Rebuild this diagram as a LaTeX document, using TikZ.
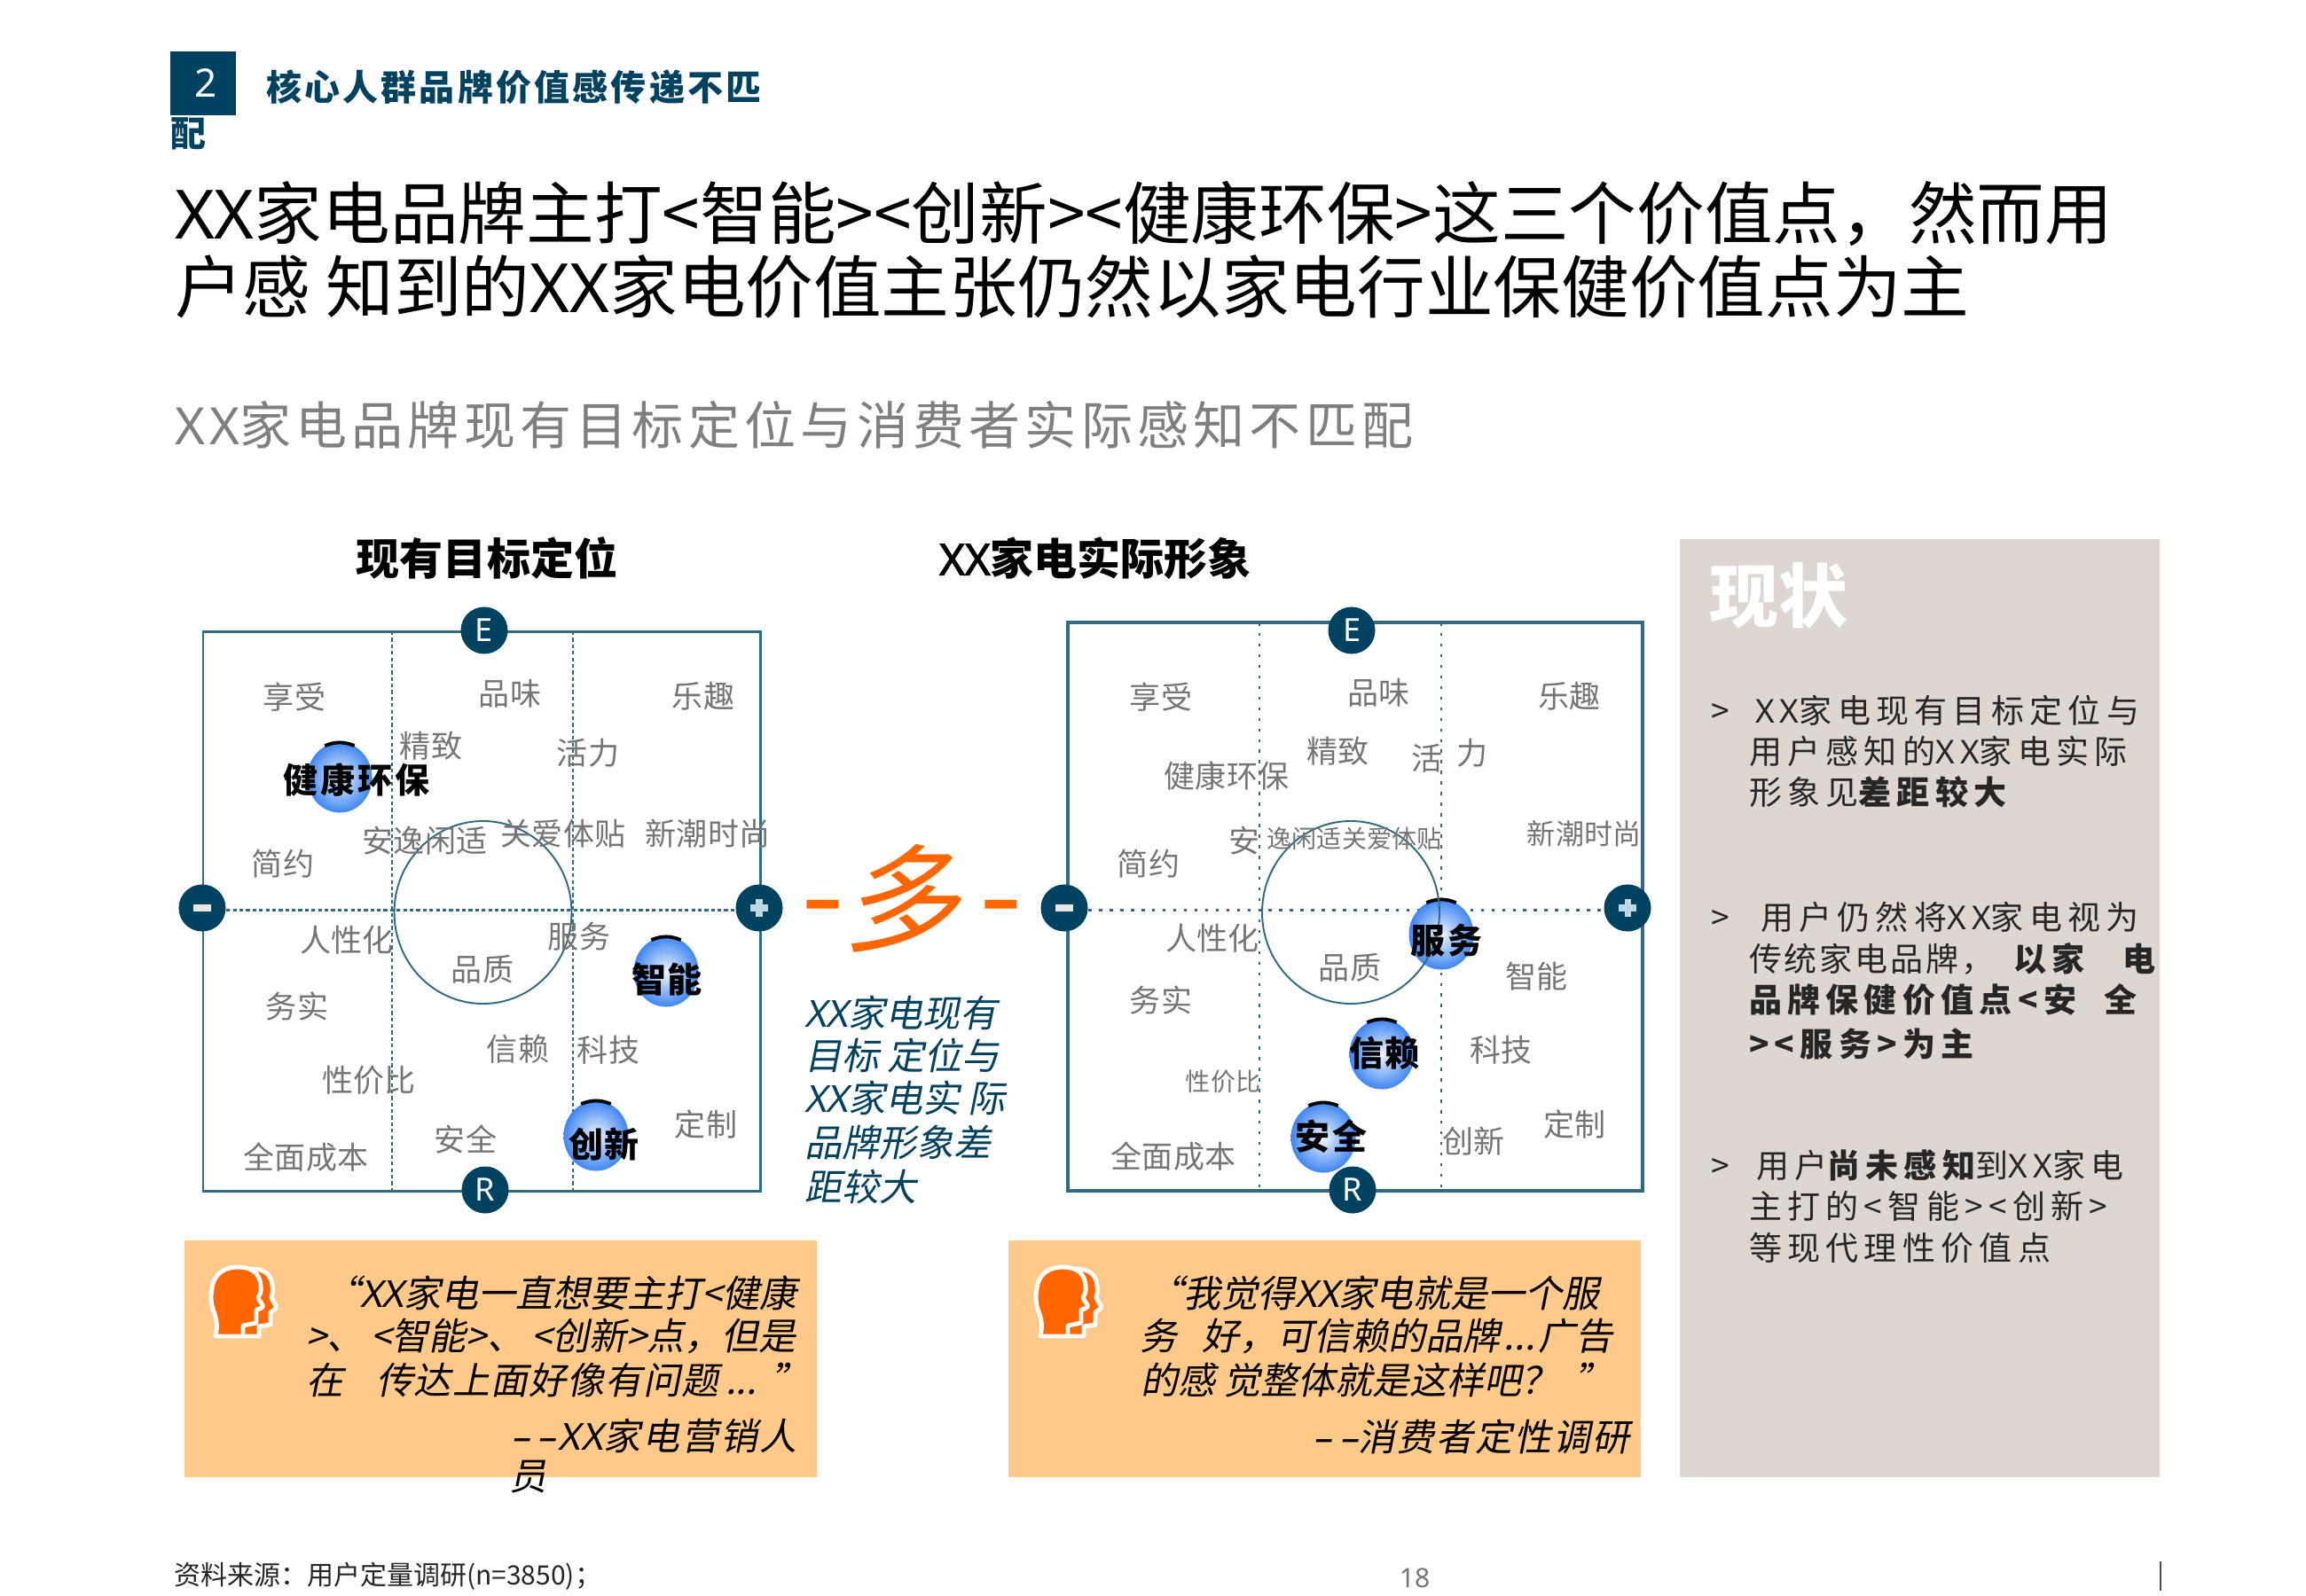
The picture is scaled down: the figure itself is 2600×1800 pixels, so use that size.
\documentclass[tikz,border=0pt]{standalone}
\usepackage{fontspec}
\usetikzlibrary{shapes.geometric}
\setmainfont{Noto Sans CJK SC}
\newfontfamily\cjkit[FakeSlant=0.2]{Noto Sans CJK SC}
\newfontfamily\cjkitw[FakeSlant=0.2,LetterSpace=5]{Noto Sans CJK SC}
\newfontfamily\cjksp[LetterSpace=17]{Noto Sans CJK SC}
\newfontfamily\cjksub[LetterSpace=9]{Noto Sans CJK SC}
\newfontfamily\cjkhd[LetterSpace=8]{Noto Sans CJK SC}
\newfontfamily\latf{Noto Sans}
\newfontfamily\latbd[FakeBold=2]{Noto Sans}
\newfontfamily\latit[FakeSlant=0.2]{Noto Sans}
\newfontfamily\latitw[FakeSlant=0.2,LetterSpace=5]{Noto Sans}
\newfontfamily\latsp[LetterSpace=17]{Noto Sans}
\newfontfamily\latsub[LetterSpace=9]{Noto Sans}
\newcommand\fs[1]{\fontsize{\the\dimexpr 0.28453pt*#1\relax}{\the\dimexpr 0.34pt*#1\relax}\selectfont}
\newcommand\XX{{\latf XX}}
\newcommand\XD{{\latbd XX}}
\newcommand\XI{{\latit XX}}
\newcommand\XW{{\latitw XX}}
\newcommand\XS{{\latsp XX}}
\newcommand\XB{{\latsub XX}}
\newcommand\gap[1]{\hspace{\dimexpr 0.28453pt*#1\relax}}
\definecolor{teal}{HTML}{00425F}
\definecolor{framec}{HTML}{2F6B84}
\definecolor{wordgray}{HTML}{757575}
\definecolor{subgray}{HTML}{7F7F7F}
\definecolor{oran}{HTML}{FF6600}
\definecolor{peach}{HTML}{FFC989}
\definecolor{sand}{HTML}{DED6D1}
\definecolor{ballblue}{HTML}{3F86F2}
\definecolor{minusc}{HTML}{EAE6E2}
\definecolor{plusc}{HTML}{BFD9E3}
\tikzset{
  x=0.01cm,y=-0.01cm,
  txt/.style={inner sep=0,outer sep=0,execute at begin node={\rule[-.12em]{0pt}{1em}}},
  titleline/.style={txt,anchor=west,font=\fontsize{21.8pt}{26pt}\selectfont,text=black},
  word/.style={txt,text=wordgray,font=\fs{35}},
  wordsm/.style={txt,text=wordgray,font=\fs{28}},
  hot/.style={txt,text=black,font=\fs{39}\bfseries},
  hotsp/.style={txt,text=black,font=\cjkhd\fs{39}\bfseries},
  ballnode/.style={ellipse,minimum width=.73cm,minimum height=.79cm,inner sep=0,shading=radial,inner color=white!92!ballblue,outer color=ballblue},
  ballcap/.style={black,line width=1.1pt},
  axisdisc/.style={circle,fill=teal,minimum size=.53cm,inner sep=0,text=white,font=\latf\fs{36}},
  framebox/.style={draw=framec},
  sep/.style={draw=framec,line width=.8pt},
  quoteline/.style={txt,font=\cjkit\fs{42},text=black},
  quotewide/.style={txt,font=\cjkitw\fs{42},text=black},
  midline/.style={txt,anchor=west,font=\cjkit\fs{42},text=teal},
  bodyline/.style={txt,anchor=west,font=\cjksp\fs{37},text=black!85},
  bodytight/.style={txt,anchor=west,font=\cjkhd\fs{37},text=black!85},
  bodybold/.style={txt,anchor=west,font=\cjksp\fs{37}\bfseries,text=black!85},
  headicon/.pic={
    \path[fill=oran,draw=white,line width=1.4pt,line join=round]
      (64,21) .. controls (78,21) and (86,28) .. (87,40)
      .. controls (88,46) and (87,50) .. (86,53)
      .. controls (87,58) and (93,63) .. (91,65)
      .. controls (89,68) and (86,69) .. (85,70)
      -- (85,84) -- (72,86) -- (72,97) -- (52,97) -- (52,40) -- cycle;
    \path[fill=oran,draw=white,line width=1.4pt,line join=round]
      (23,97) .. controls (25,88) and (25,80) .. (22,72)
      .. controls (18,62) and (17,52) .. (19,44)
      .. controls (20,28) and (32,19) .. (48,19)
      .. controls (64,19) and (73,26) .. (74,40)
      .. controls (75,47) and (73,50) .. (71,53)
      .. controls (72,58) and (78,62) .. (76,64)
      .. controls (74,66) and (71,67) .. (69,67)
      -- (69,82) -- (54,85) -- (54,97) -- cycle;
  }
}
\begin{document}
\begin{tikzpicture}
\useasboundingbox (0,0) rectangle (2600,1800);
\fill[white] (0,0) rectangle (2600,1800);

% header
\node[fill=teal,minimum width=.73cm,minimum height=.71cm,inner sep=0,text=white,font=\latf\fs{44}] (num) at (229,94) {\hspace*{1.7pt}\raisebox{-2.4pt}{2}};
\node[txt,anchor=west,text=teal,font=\cjkhd\fs{40}\bfseries] (sect) at (300,98) {核心人群品牌价值感传递不匹};
\node[txt,anchor=west,text=teal,font=\fs{40}\bfseries] (sect2) at (192,150) {配};
\node[titleline] (t1) at (197,240) {\XX 家电品牌主打<智能><创新><健康环保>这三个价值点，然而用};
\node[titleline] (t2) at (197,323) {户感 知到的\XX 家电价值主张仍然以家电行业保健价值点为主};
\node[txt,anchor=west,font=\cjksub\fs{58},text=subgray] (sub) at (197,479) {\XB 家电品牌现有目标定位与消费者实际感知不匹配};

\node[txt,font=\fs{49}\bfseries] (h1) at (549,630) {现有目标定位};
\node[txt,font=\fs{49}\bfseries] (h2) at (1235,630) {\XD 家电实际形象};

% left matrix
\coordinate (la) at (229,712); \coordinate (lb) at (857,1343);
\draw[framebox,line width=.85pt] (la) rectangle (lb);
\node[axisdisc] (lE) at (546,711) {\raisebox{-1pt}{E}};
\node[axisdisc] (lR) at (547,1342) {\raisebox{-2pt}{R}};
\node[axisdisc] (lM) at (228,1024) {};
\node[axisdisc] (lP) at (856,1024) {};
\coordinate (lv1t) at (442,712); \coordinate (lv1b) at (442,1343);
\coordinate (lv2t) at (646,712); \coordinate (lv2b) at (646,1343);
\draw[sep,dash pattern=on 1.2pt off .9pt] (lv1t) -- (lv1b);
\draw[sep,dash pattern=on 1.2pt off .9pt] (lv2t) -- (lv2b);
\draw[sep,dash pattern=on 1.2pt off .9pt] ([yshift=-.8pt]lM.east) -- ([yshift=-.8pt]lP.west);
\draw[framec,line width=.55pt] (544.5,1029) ellipse [x radius=100,y radius=103];
\fill[minusc] ([xshift=-2.9pt,yshift=1.2pt]lM.center) rectangle ([xshift=2.9pt,yshift=-1.2pt]lM.center);
\fill[plusc] ([xshift=-1pt,yshift=2.9pt]lP.center) rectangle ([xshift=1pt,yshift=-2.9pt]lP.center);
\fill[plusc] ([xshift=-2.9pt,yshift=1pt]lP.center) rectangle ([xshift=2.9pt,yshift=-1pt]lP.center);

\node[ballnode] (lb1) at (383,877) {};
\node[ballnode] (lb2) at (751,1096) {};
\node[ballnode] (lb3) at (672,1281) {};
\foreach \b in {lb1,lb2,lb3} \draw[ballcap] (\b.115) to[out=22,in=158] (\b.65);

\node[word] (l01) at (332,786) {享受};
\node[word] (l02) at (575,782) {品味};
\node[word] (l03) at (793,785) {乐趣};
\node[word] (l04) at (486,841) {精致};
\node[word] (l05) at (663,849) {活力};
\node[hotsp] (l06) at (402,880) {健康环保};
\node[word] (l07) at (479,948) {安逸闲适};
\node[word] (l08) at (635,940) {关爱体贴};
\node[word] (l09) at (798,940) {新潮时尚};
\node[word] (l10) at (319,974) {简约};
\node[word] (l11) at (391,1060) {人性化};
\node[word] (l12) at (653,1056) {服务};
\node[word] (l13) at (544,1093) {品质};
\node[hot] (l14) at (752,1105) {智能};
\node[word] (l15) at (335,1135) {务实};
\node[word] (l16) at (584,1183) {信赖};
\node[word] (l17) at (686,1184) {科技};
\node[word] (l18) at (416,1218) {性价比};
\node[word] (l19) at (796,1268) {定制};
\node[word] (l20) at (525,1285) {安全};
\node[hot] (l21) at (681,1291) {创新};
\node[word] (l22) at (345,1305) {全面成本};

% middle
\node[txt,font=\cjkit\fs{132},text=oran] (duo) at (1017,1013) {多};
\node[txt,font=\fs{140},text=oran] (dash1) at (928,1006) {-};
\node[txt,font=\fs{140},text=oran] (dash2) at (1129,1006) {-};
\node[midline] (m1) at (907,1143) {\XI 家电现有};
\node[midline] (m2) at (907,1191) {目标 定位与};
\node[midline] (m3) at (907,1239) {\XI 家电实 际};
\node[midline] (m4) at (907,1289) {品牌形象差};
\node[midline] (m5) at (907,1339) {距较大};

% right matrix
\coordinate (ra) at (1204,702); \coordinate (rb) at (1852,1343);
\draw[framebox,line width=1pt] (ra) rectangle (rb);
\node[axisdisc] (rE) at (1524,711) {\raisebox{-1pt}{E}};
\node[axisdisc] (rR) at (1525,1342) {\raisebox{-2pt}{R}};
\node[axisdisc] (rM) at (1200,1024) {};
\node[axisdisc] (rP) at (1835,1024) {};
\coordinate (rv1t) at (1420,702); \coordinate (rv1b) at (1420,1343);
\coordinate (rv2t) at (1625,702); \coordinate (rv2b) at (1625,1343);
\draw[sep,dash pattern=on 1pt off 2.4pt] (rv1t) -- (rv1b);
\draw[sep,dash pattern=on 1pt off 2.4pt] (rv2t) -- (rv2b);
\draw[sep,dash pattern=on 1pt off 2.4pt] ([yshift=-.8pt]rM.east) -- ([yshift=-.8pt]rP.west);
\fill[minusc] ([xshift=-2.9pt,yshift=1.2pt]rM.center) rectangle ([xshift=2.9pt,yshift=-1.2pt]rM.center);
\fill[plusc] ([xshift=-1pt,yshift=2.9pt]rP.center) rectangle ([xshift=1pt,yshift=-2.9pt]rP.center);
\fill[plusc] ([xshift=-2.9pt,yshift=1pt]rP.center) rectangle ([xshift=2.9pt,yshift=-1pt]rP.center);

\node[ballnode] (rb1) at (1625,1054) {};
\node[ballnode] (rb2) at (1558,1189) {};
\node[ballnode] (rb3) at (1492,1283) {};
\foreach \b in {rb1,rb2,rb3} \draw[ballcap] (\b.115) to[out=22,in=158] (\b.65);
\draw[framec,line width=.55pt] (1523,1029) ellipse [x radius=100,y radius=103];

\node[word] (r01) at (1309,786) {享受};
\node[word] (r02) at (1554,781) {品味};
\node[word] (r03) at (1769,785) {乐趣};
\node[word] (r04) at (1508,847) {精致};
\node[word] (r05) at (1609,855) {活};
\node[word] (r06) at (1660,849) {力};
\node[word] (r07) at (1383,875) {健康环保};
\node[word] (r08) at (1403,948) {安};
\node[wordsm] (r09) at (1527,946) {逸闲适关爱体贴};
\node[word,font=\fs{32}] (r10) at (1786,940) {新潮时尚};
\node[word] (r11) at (1295,974) {简约};
\node[word] (r12) at (1367,1058) {人性化};
\node[hotsp] (r13) at (1631,1061) {服务};
\node[word] (r14) at (1522,1091) {品质};
\node[word] (r15) at (1732,1101) {智能};
\node[word] (r16) at (1309,1128) {务实};
\node[hot] (r17) at (1561,1188) {信赖};
\node[word] (r18) at (1692,1184) {科技};
\node[wordsm] (r19) at (1379,1220) {性价比};
\node[word] (r20) at (1775,1268) {定制};
\node[hotsp] (r21) at (1501,1282) {安全};
\node[word] (r22) at (1661,1287) {创新};
\node[word] (r23) at (1323,1304) {全面成本};

% quote boxes
\node[fill=peach,minimum width=7.13cm,minimum height=2.67cm,inner sep=0,anchor=north west] (qL) at (207,1398) {};
\node[fill=peach,minimum width=7.13cm,minimum height=2.67cm,inner sep=0,anchor=north west] (qR) at (1136,1398) {};
\pic at (220,1410) {headicon};
\pic at (1150,1410) {headicon};

\node[quoteline,anchor=east] (ql1) at (899,1459) {“\XI 家电一直想要主打<健康};
\node[quoteline,anchor=west] (ql2) at (345,1507) {>、\gap{8}<智能>、\gap{8}<创新>点，但是};
\node[quoteline,anchor=west] (ql3a) at (345,1557) {在};
\node[quoteline,anchor=west] (ql3b) at (424,1557) {传\gap{1}达\gap{1}上\gap{1}面\gap{1}好\gap{1}像\gap{1}有\gap{1}问\gap{1}题\gap{8}...\gap{16}”};
\node[quotewide,anchor=east] (ql4) at (899,1620) {{\latitw –\hspace{.2em}–}\XW 家电营销人};
\node[quoteline,anchor=west] (ql5) at (574,1665) {员};

\node[quoteline,anchor=east] (qr1) at (1804,1459) {“我觉得\XI 家电就是一个服};
\node[quoteline,anchor=west] (qr2a) at (1285,1507) {务};
\node[quoteline,anchor=east] (qr2b) at (1819,1507) {好，可信赖的品牌\gap{4}...\gap{4}广告};
\node[quoteline,anchor=west] (qr3) at (1286,1557) {的感 觉整体就是这样吧？\gap{18}”};
\node[quotewide,anchor=east] (qr4) at (1838,1621) {{\latitw –\hspace{.2em}–}消费者定性调研};

% status panel
\node[fill=sand,minimum width=5.41cm,minimum height=10.58cm,inner sep=0,anchor=north west] (panel) at (1893,607) {};
\node[txt,anchor=west,text=white,font=\fs{78}\bfseries] (st) at (1927,672) {现状};
\node[bodyline] (g1) at (1929,801) {>};
\node[bodyline] (b1) at (1979,801) {\XS 家电现有目标定位与};
\node[bodyline] (b2) at (1972,847) {用户感知的\XS 家电实际};
\node[bodyline] (b3) at (1972,893) {形象见{\bfseries 差距较大}};
\node[bodyline] (g2) at (1929,1034) {>};
\node[bodyline] (b4) at (1985,1034) {用户仍然将\XS 家电视为};
\node[bodytight] (b5) at (1972,1081) {传统家电品牌，};
\node[bodybold] (b5b) at (2270,1081) {以家};
\node[bodybold] (b5c) at (2393,1081) {电};
\node[bodybold] (b6) at (1972,1127) {品牌保健价值点<安};
\node[bodybold] (b6b) at (2372,1127) {全};
\node[bodybold] (b7) at (1972,1177) {><服务>为主};
\node[bodyline] (g3) at (1929,1314) {>};
\node[bodyline] (b8) at (1980,1314) {用户{\bfseries 尚未感知}到\XS 家电};
\node[bodyline] (b9) at (1972,1360) {主打的<智能><创新>};
\node[bodyline] (b10) at (1972,1407) {等现代理性价值点};

% footer
\node[txt,anchor=west,font=\fs{30},text=black!85] (src) at (196,1777) {资料来源：用户定量调研(n=3850)；};
\node[txt,font=\latf\fs{30},text=wordgray] (pg) at (1595,1779) {18};
\coordinate (bar1) at (2436,1761); \coordinate (bar2) at (2436,1794);
\draw[black!70,line width=.6pt] (bar1) -- (bar2);
\end{tikzpicture}
\end{document}
